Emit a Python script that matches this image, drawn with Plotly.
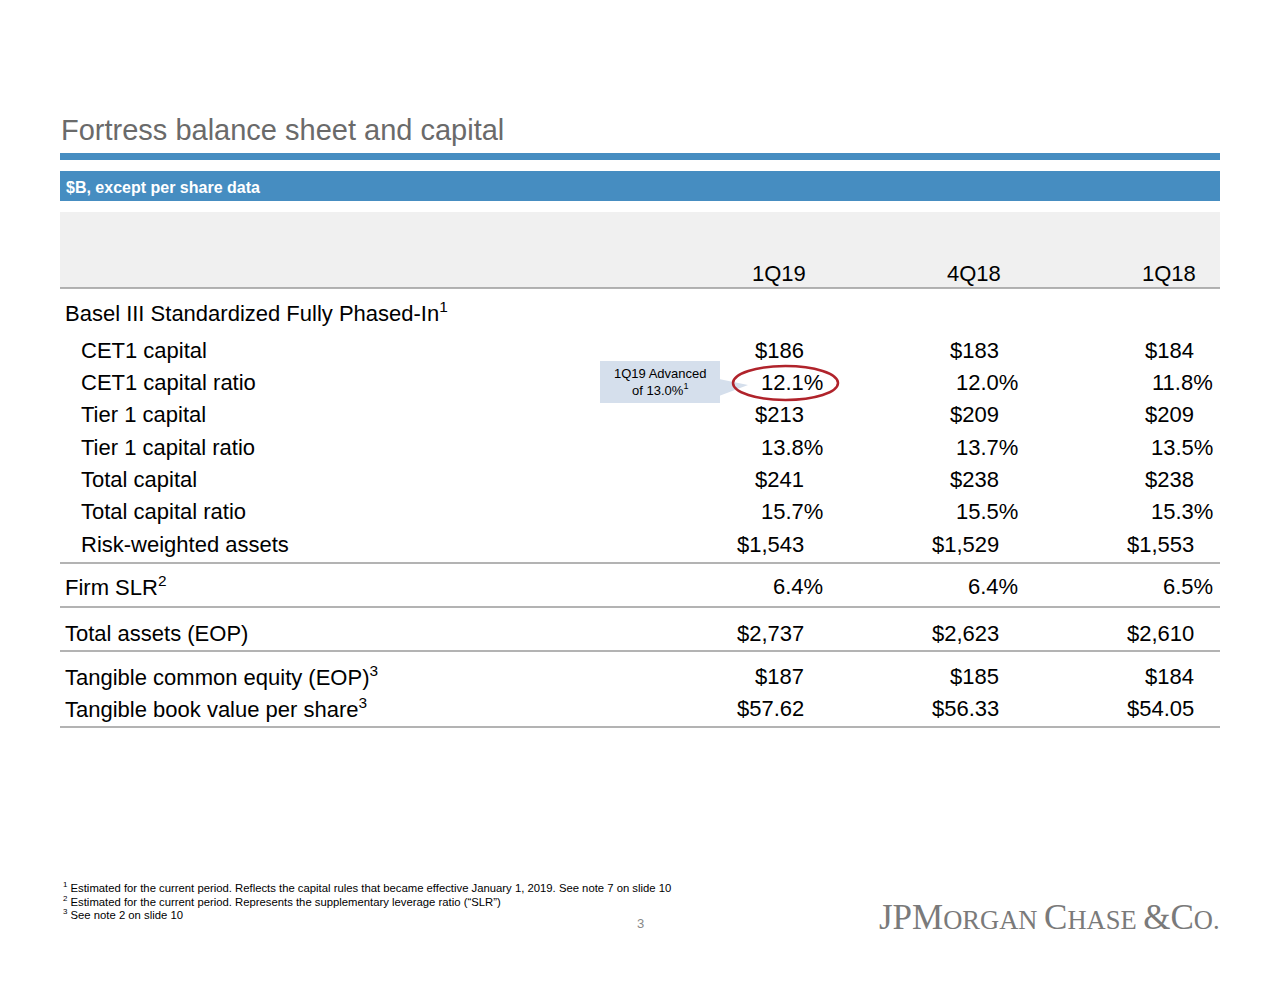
import plotly.graph_objects as go

# ---------------- data ----------------
title = "Fortress balance sheet and capital"
subtitle = "$B, except per share data"
periods = ["1Q19", "4Q18", "1Q18"]
section_label = "Basel III Standardized Fully Phased-In"
metrics = ["CET1 capital", "CET1 capital ratio", "Tier 1 capital", "Tier 1 capital ratio",
           "Total capital", "Total capital ratio", "Risk-weighted assets", "Firm SLR",
           "Total assets (EOP)", "Tangible common equity (EOP)", "Tangible book value per share"]
metric_notes = ["", "", "", "", "", "", "", "2", "", "3", "3"]
v_1q19 = [186, 12.1, 213, 13.8, 241, 15.7, 1543, 6.4, 2737, 187, 57.62]
v_4q18 = [183, 12.0, 209, 13.7, 238, 15.5, 1529, 6.4, 2623, 185, 56.33]
v_1q18 = [184, 11.8, 209, 13.5, 238, 15.3, 1553, 6.5, 2610, 184, 54.05]
value_format = ["$", "%", "$", "%", "$", "%", "$", "%", "$", "$", "$2"]
callout_text = "1Q19 Advanced<br>of 13.0%<sup>1</sup>"
footnotes = [
    "Estimated for the current period. Reflects the capital rules that became effective January 1, 2019. See note 7 on slide 10",
    "Estimated for the current period. Represents the supplementary leverage ratio (“SLR”)",
    "See note 2 on slide 10",
]
page_number = "3"

# ---------------- layout constants ----------------
OFF = 8  # page body margin
W, H = 1280 - OFF, 989 - OFF
L, R = 60, 1220
BLUE = "#468dc1"
GRAY_T = "#6a6a6a"
FONT = "Liberation Sans, Arial"
SANS = "Liberation Sans, Arial"
row_y = [350, 382, 414, 447, 479, 511, 544, 586, 633, 676, 708]
indent = [True] * 7 + [False] * 4
col_right = [806, 1001, 1196]
pct_shift = 19
sep_lines = [288, 563, 607, 651, 727]
TS = 22


def fmt(v, f):
    if f == "$":
        return f"${v:,.0f}"
    if f == "$2":
        return f"${v:,.2f}"
    return f"{v:.1f}%"


fig = go.Figure()
fig.add_trace(go.Scatter(x=[100], y=[100], mode="markers", marker=dict(opacity=0), hoverinfo="skip", showlegend=False))

shapes = []
ann = []

# title
ann.append(dict(x=59, y=130, text=title, xanchor="left", yanchor="middle", showarrow=False,
                font=dict(family=SANS, size=29, color=GRAY_T)))
shapes.append(dict(type="rect", x0=L, x1=R, y0=153, y1=160, fillcolor=BLUE, line=dict(width=0)))
shapes.append(dict(type="rect", x0=L, x1=R, y0=171, y1=201, fillcolor=BLUE, line=dict(width=0)))
ann.append(dict(x=64, y=187, text="<b>" + subtitle + "</b>", xanchor="left", yanchor="middle", showarrow=False,
                font=dict(family=SANS, size=16, color="white")))
shapes.append(dict(type="rect", x0=L, x1=R, y0=212, y1=288, fillcolor="#f0f0f0", line=dict(width=0)))

for p, xr in zip(periods, col_right):
    ann.append(dict(x=xr + 2, y=273, text=p, xanchor="right", yanchor="middle", showarrow=False,
                    font=dict(family=FONT, size=TS, color="black")))

for yl in sep_lines:
    shapes.append(dict(type="line", x0=L, x1=R, y0=yl, y1=yl, line=dict(color="#9a9a9a", width=1.5)))

ann.append(dict(x=63, y=312, text=section_label + "<sup>1</sup>", xanchor="left", yanchor="middle",
                showarrow=False, font=dict(family=FONT, size=TS, color="black")))

cols = [v_1q19, v_4q18, v_1q18]
for i, m in enumerate(metrics):
    lab = m + (f"<sup>{metric_notes[i]}</sup>" if metric_notes[i] else "")
    ann.append(dict(x=79 if indent[i] else 63, y=row_y[i], text=lab, xanchor="left", yanchor="middle",
                    showarrow=False, font=dict(family=FONT, size=TS, color="black")))
    for c, xr in zip(cols, col_right):
        f = value_format[i]
        ann.append(dict(x=xr + (pct_shift if f == "%" else 0), y=row_y[i], text=fmt(c[i], f),
                        xanchor="right", yanchor="middle", showarrow=False,
                        font=dict(family=FONT, size=TS, color="black")))

# callout
shapes.append(dict(type="rect", x0=600, x1=720, y0=361, y1=403, fillcolor="#d5dfec", line=dict(width=0)))
shapes.append(dict(type="path", path="M 719 379 L 748 385 L 719 396 Z", fillcolor="#d5dfec", line=dict(width=0)))
ann.append(dict(x=660, y=382, text=callout_text, xanchor="center", yanchor="middle", showarrow=False,
                font=dict(family=SANS, size=13, color="black")))
shapes.append(dict(type="circle", x0=733, x1=838, y0=366, y1=400, line=dict(color="#b0232b", width=2.5)))

# footnotes
for k, (t, yy) in enumerate(zip(footnotes, [887, 901, 914])):
    ann.append(dict(x=61, y=yy, text=f"<sup>{k+1}</sup> {t}", xanchor="left", yanchor="middle", showarrow=False,
                    font=dict(family=SANS, size=11.3, color="black")))
ann.append(dict(x=640, y=923, text=page_number, xanchor="center", yanchor="middle", showarrow=False,
                font=dict(family=SANS, size=13, color="#888888")))

# logo
logo = ("<span style='font-size:35px'>JPM</span><span style='font-size:26.5px'>ORGAN </span>"
        "<span style='font-size:35px'>C</span><span style='font-size:26.5px'>HASE </span>"
        "<span style='font-size:35px'>&amp;C</span><span style='font-size:26.5px'>O.</span>")
ann.append(dict(x=1222, y=917, text=logo, xanchor="right", yanchor="middle", showarrow=False,
                font=dict(family="Liberation Serif, Times New Roman, serif", size=35, color="#7a7a7a")))

fig.update_layout(
    width=W, height=H, margin=dict(l=0, r=0, t=0, b=0),
    paper_bgcolor="white", plot_bgcolor="white",
    xaxis=dict(range=[OFF, 1280], visible=False, fixedrange=True),
    yaxis=dict(range=[989, OFF], visible=False, fixedrange=True),
    shapes=shapes, annotations=ann, showlegend=False,
)
fig.write_html("out.html")
